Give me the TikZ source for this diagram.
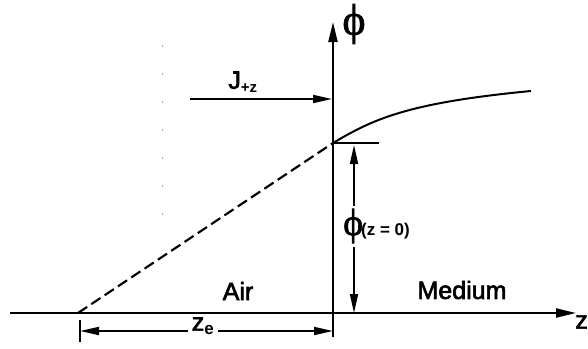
\documentclass[tikz,border=0pt]{standalone}
\usepackage{fontspec}
\setmainfont{Liberation Sans}[FakeBold=2.5]
\newfontfamily\phifont{Liberation Serif}[FakeBold=1.5]
\newfontfamily\subsans{Liberation Sans Bold}
\usetikzlibrary{arrows.meta}
\tikzset{
  axis/.style={line width=2.2pt, -{Triangle[length=20pt,width=9pt]}},
  dimarrow/.style={line width=1.8pt, -{Triangle[length=19pt,width=8pt]}},
  lbl/.style={inner sep=0pt, font=\fontsize{25}{28}\selectfont},
}
\begin{document}
\begin{tikzpicture}[x=1pt,y=-1pt]
\useasboundingbox (0,0) rectangle (588,348);
% key points
\coordinate (axL) at (10,313);
\coordinate (axR) at (576,313);
\coordinate (vb) at (333,337);
\coordinate (vt) at (333,22);
\coordinate (p0) at (333,143);
\coordinate (ze) at (78,313);
\coordinate (pend) at (531,91);
\coordinate (tickE) at (379,143);
\coordinate (jS) at (190,99);
\coordinate (jE) at (332,99);
\coordinate (dimT) at (354,145);
\coordinate (dimB) at (354,313);
\coordinate (zL) at (80,331);
\coordinate (zR) at (333,331);
% faint scan dots
\draw[black!30, line width=1pt, dash pattern=on 2pt off 26pt] (162,45) -- (162,232);
% axes
\draw[axis] (axL) -- (axR);
\draw[axis] (vb) -- (vt);
% curve
\draw[line width=2.2pt, dash pattern=on 11pt off 5pt] (ze) -- (p0);
\draw[line width=2pt] (p0) .. controls (372,120) and (405,103) .. (pend);
\draw[line width=1.6pt] (p0) -- (tickE);
% J arrow
\draw[dimarrow] (jS) -- (jE);
\node[lbl] (J) at (243,82) {J\textsubscript{\subsans\fontsize{15}{16}\selectfont +z}};
% phi axis label
\node[inner sep=0pt, font=\phifont\fontsize{44}{46}\selectfont] (phi) at (354,24) {ϕ};
% phi(z=0) dimension
\node[inner sep=0pt, anchor=west] (phiz) at (343,226) {{\phifont\fontsize{38}{40}\selectfont ϕ}\hspace{-2pt}{\subsans\fontsize{17}{18}\selectfont (z = 0)}};
\draw[dimarrow] (354,206) -- (dimT);
\draw[dimarrow] (354,247) -- (dimB);
% z_e dimension
\draw[line width=1.6pt] (80,320) -- (80,342);
\node[lbl] (zelbl) at (203,326) {z\textsubscript{\subsans\fontsize{17}{17}\selectfont e}};
\coordinate (zlA) at (188,331);
\coordinate (zlB) at (218,331);
\draw[dimarrow] (zlA) -- (zL);
\draw[dimarrow] (zlB) -- (zR);
% region labels
\node[lbl] (air) at (238,291) {Air};
\node[lbl] (med) at (462,290) {Medium};
\node[lbl, anchor=east] (zlbl) at (588,322) {z};
\end{tikzpicture}
\end{document}
